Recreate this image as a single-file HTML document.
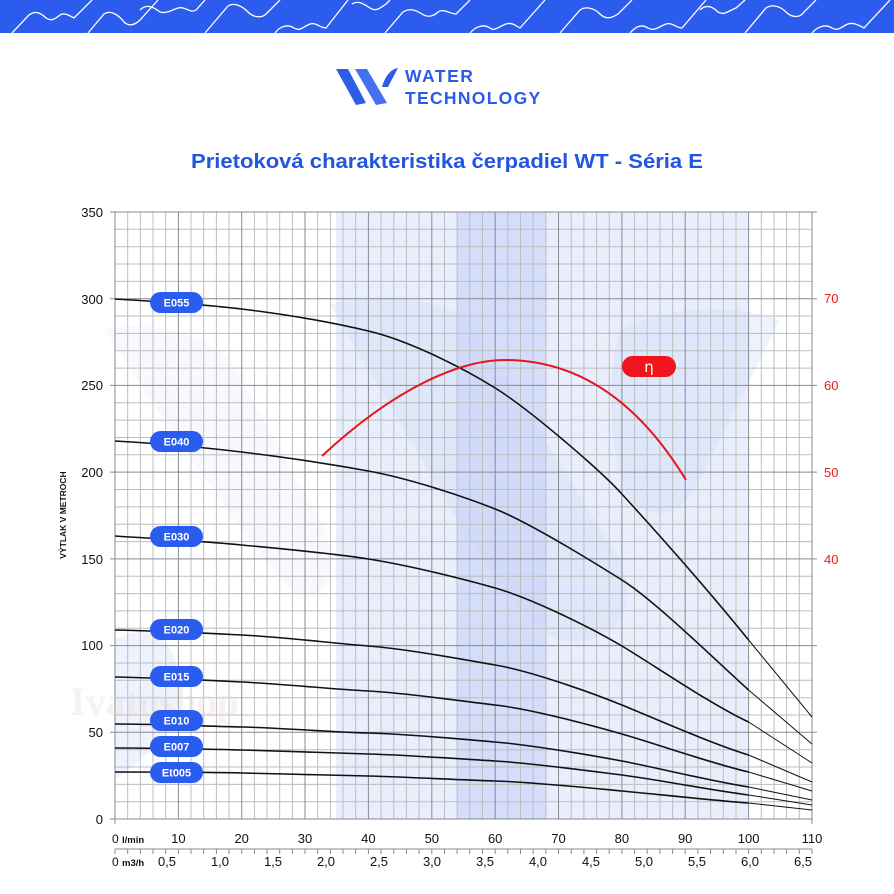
<!DOCTYPE html>
<html><head><meta charset="utf-8"><style>
html,body{margin:0;padding:0;background:#fff;}
svg{display:block;font-family:"Liberation Sans",sans-serif;}
</style></head><body>
<svg width="894" height="894" viewBox="0 0 894 894" xmlns="http://www.w3.org/2000/svg">
<!-- banner -->
<rect x="0" y="0" width="894" height="33" fill="#2b5cee"/>
<g fill="none" stroke="#fff" stroke-width="1.3">
<path d="M12,33 L28,16 C34,10 40,12 46,18 C52,22 56,18 60,15 C64,12 70,16 74,18 L92,0"/>
<path d="M88,33 L104,14 C110,10 118,14 124,22 C128,26 134,26 140,20 L158,0"/>
<path d="M140,10 C146,4 152,6 160,12 C166,14 172,10 178,8 C186,6 190,14 196,10 L205,0"/>
<path d="M205,33 L228,6 C234,2 242,6 248,12 C254,18 262,18 266,14 L280,0"/>
<path d="M275,33 C280,26 288,24 294,28 C300,32 304,26 310,24 C316,22 320,28 326,28 L348,0"/>
<path d="M352,4 C358,0 364,4 370,8 C376,12 380,8 386,4 L390,0"/>
<path d="M385,33 L403,12 C409,8 416,10 422,14 C428,18 434,16 438,12 C444,8 450,14 456,14 L470,0"/>
<path d="M470,33 C476,26 484,24 490,28 C494,32 500,26 506,24 C512,22 516,26 520,28 L545,0"/>
<path d="M560,33 L580,10 C586,6 594,8 600,14 C606,20 612,18 618,14 L632,0"/>
<path d="M630,33 C636,26 642,24 648,28 C654,32 660,26 666,24 C672,22 676,28 682,28 L706,0"/>
<path d="M700,10 C706,4 712,6 718,12 C724,16 730,10 736,8 L745,0"/>
<path d="M745,33 L766,8 C772,4 780,6 786,12 C792,18 800,18 804,12 L816,0"/>
<path d="M812,33 C818,26 826,24 832,28 C838,32 842,26 848,24 C854,22 860,26 864,28 L890,0"/>
</g>
<!-- logo -->
<g>
<path d="M336,69 L348,69 L366,103 L356,105 Z" fill="#2f5ee6"/>
<path d="M355,69 L367,69 L387,103 L376,105 Z" fill="#4570f0"/>
<path d="M382,87 C385,76 391,69 398,68 L388,87 Z" fill="#2f5ee6"/>
<text x="405" y="82" font-size="17.5" font-weight="bold" fill="#2b5ce6" letter-spacing="1.5">WATER</text>
<text x="405" y="104" font-size="17.5" font-weight="bold" fill="#2b5ce6" letter-spacing="1.3">TECHNOLOGY</text>
</g>
<text x="447" y="168" text-anchor="middle" font-size="20" font-weight="bold" fill="#2255e0" textLength="512" lengthAdjust="spacingAndGlyphs">Prietoková charakteristika čerpadiel WT - Séria E</text>

<!-- shading -->
<rect x="336" y="212" width="412" height="607" fill="#e9eefd"/>
<rect x="457" y="212" width="89" height="607" fill="#d4ddfa"/>
<g fill="#c8d5f8" opacity="0.3">
<path d="M330,305 C380,290 440,300 470,320 L620,560 C640,600 620,650 560,640 C520,620 480,560 440,490 Z"/>
<path d="M620,330 C660,310 720,300 780,320 L700,480 C680,520 650,520 630,500 C610,460 605,380 620,330 Z"/>
<path d="M105,330 C140,320 200,330 230,360 L320,520 C340,560 330,600 300,600 C260,560 200,470 150,400 Z" opacity="0.5"/>
<path d="M115,640 C150,620 180,640 180,690 C175,740 140,760 115,780 Z"/>
</g>

<!-- grid -->
<g stroke="#bdbdbd" stroke-width="1">
<path d="M127.7,212V819M140.3,212V819M153,212V819M165.7,212V819M191,212V819M203.7,212V819M216.4,212V819M229,212V819M254.4,212V819M267,212V819M279.7,212V819M292.4,212V819M317.7,212V819M330.4,212V819M343,212V819M355.7,212V819M381,212V819M393.8,212V819M406.4,212V819M419.1,212V819M444.5,212V819M457.1,212V819M469.8,212V819M482.5,212V819M507.8,212V819M520.5,212V819M533.2,212V819M545.9,212V819M571.2,212V819M583.9,212V819M596.6,212V819M609.2,212V819M634.6,212V819M647.2,212V819M659.9,212V819M672.6,212V819M697.9,212V819M710.6,212V819M723.3,212V819M736,212V819M761.3,212V819M774,212V819M786.6,212V819M799.3,212V819"/>
<path d="M115,229.3H812M115,246.7H812M115,264H812M115,281.4H812M115,316H812M115,333.4H812M115,350.7H812M115,368.1H812M115,402.8H812M115,420.1H812M115,437.5H812M115,454.8H812M115,489.5H812M115,506.9H812M115,524.2H812M115,541.6H812M115,576.2H812M115,593.6H812M115,610.9H812M115,628.3H812M115,663H812M115,680.3H812M115,697.7H812M115,715H812M115,749.7H812M115,767H812M115,784.4H812M115,801.7H812"/>
</g>
<g stroke="#8a8a92" stroke-width="1">
<path d="M178.4,212V819M241.7,212V819M305,212V819M368.4,212V819M431.8,212V819M495.2,212V819M558.5,212V819M621.9,212V819M685.2,212V819M748.6,212V819"/>
<path d="M110,212H817M110,298.7H817M110,385.4H817M110,472.1H817M110,558.9H817M110,645.6H817M110,732.3H817M110,819H812"/>
<path d="M115,212V824M812,212V824"/>
</g>

<!-- watermark -->
<text x="70" y="715" font-family="Liberation Serif,serif" font-size="40" font-weight="bold" fill="#ead6d6" opacity="0.35">Ivatoshop</text>

<!-- curves -->
<g fill="none" stroke="#111" stroke-width="1.6" stroke-linejoin="round">
<path d="M115,299 C150,301 200,304 241.7,309 S330,322 368.4,331 S460,366 495.2,388 S600,470 621.9,494 S700,580 748.6,640"/>
<path d="M115,441 C150,443 200,447 241.7,452 S330,464 368.4,471 S460,495 495.2,509 S590,560 621.9,580 S710,655 748.6,690"/>
<path d="M115,536 C160,539 200,541 241.7,545 S330,553 368.4,559 S460,578 495.2,588 S590,627 621.9,646 S710,704 748.6,722"/>
<path d="M115,630 C160,631 200,633 241.7,635 S330,643 368.4,646 S460,659 495.2,665 S590,692 621.9,705 S710,743 748.6,755"/>
<path d="M115,677 C160,678 200,680 241.7,682 S330,689 368.4,691 S460,701 495.2,705 S590,725 621.9,734 S710,763 748.6,772"/>
<path d="M115,724 C160,724 200,726 241.7,727 S330,732 368.4,733 S460,739 495.2,742 S590,755 621.9,761 S710,781 748.6,787"/>
<path d="M115,748 C160,748 200,749 241.7,750 S330,753 368.4,754 S460,759 495.2,761 S590,771 621.9,775 S710,790 748.6,795"/>
<path d="M115,772 C160,772 200,772 241.7,773 S330,775 368.4,776 S460,780 495.2,781 S590,788 621.9,791 S710,800 748.6,803"/>
</g>
<g fill="none" stroke="#111" stroke-width="1">
<path d="M748.6,640L812,717M748.6,690L812,744M748.6,722L812,763M748.6,755L812,782M748.6,772L812,791M748.6,787L812,800M748.6,795L812,805M748.6,803L812,810"/>
</g>
<path d="M322,456 C395,388 460,360 505,360 C565,360 630,388 686,480" fill="none" stroke="#e8141c" stroke-width="2"/>

<!-- pills -->
<g fill="#2a5cee">
<rect x="150" y="292" width="53" height="21" rx="10.5"/>
<rect x="150" y="431" width="53" height="21" rx="10.5"/>
<rect x="150" y="526" width="53" height="21" rx="10.5"/>
<rect x="150" y="619" width="53" height="21" rx="10.5"/>
<rect x="150" y="666" width="53" height="21" rx="10.5"/>
<rect x="150" y="710" width="53" height="21" rx="10.5"/>
<rect x="150" y="736" width="53" height="21" rx="10.5"/>
<rect x="150" y="762" width="53" height="21" rx="10.5"/>
</g>
<g fill="#fff" font-size="11" font-weight="bold" text-anchor="middle">
<text x="176.5" y="306.5">E055</text>
<text x="176.5" y="445.5">E040</text>
<text x="176.5" y="540.5">E030</text>
<text x="176.5" y="633.5">E020</text>
<text x="176.5" y="680.5">E015</text>
<text x="176.5" y="724.5">E010</text>
<text x="176.5" y="750.5">E007</text>
<text x="176.5" y="776.5">Et005</text>
</g>
<rect x="622" y="356" width="54" height="21" rx="10.5" fill="#f0141c"/>
<text x="649" y="372" fill="#fff" font-size="15" text-anchor="middle" font-family="DejaVu Sans,sans-serif">η</text>

<!-- left axis -->
<g font-size="13" fill="#111" text-anchor="end">
<text x="103" y="217">350</text><text x="103" y="304">300</text><text x="103" y="390">250</text>
<text x="103" y="477">200</text><text x="103" y="564">150</text><text x="103" y="650">100</text>
<text x="103" y="737">50</text><text x="103" y="824">0</text>
</g>
<text transform="translate(66,515) rotate(-90)" font-size="8.5" font-weight="bold" text-anchor="middle" fill="#111">VÝTLAK V METROCH</text>
<!-- right axis -->
<g font-size="13" fill="#ee1a1a">
<text x="824" y="303">70</text><text x="824" y="390">60</text><text x="824" y="477">50</text><text x="824" y="564">40</text>
</g>
<!-- bottom axis -->
<g font-size="13" fill="#111" text-anchor="middle">
<text x="178.4" y="843">10</text><text x="241.7" y="843">20</text><text x="305" y="843">30</text>
<text x="368.4" y="843">40</text><text x="431.8" y="843">50</text><text x="495.2" y="843">60</text>
<text x="558.5" y="843">70</text><text x="621.9" y="843">80</text><text x="685.2" y="843">90</text>
<text x="748.6" y="843">100</text><text x="812" y="843">110</text>
</g>
<text x="112" y="843" font-size="12" fill="#111">0 <tspan font-size="9.5" font-weight="bold">l/min</tspan></text>
<path d="M115,849H812" stroke="#888" stroke-width="1"/>
<g stroke="#888"><path d="M115,849v5M127.7,849v5M140.3,849v5M153,849v5M165.7,849v5M178.4,849v5M191,849v5M203.7,849v5M216.4,849v5M229,849v5M241.7,849v5M254.4,849v5M267,849v5M279.7,849v5M292.4,849v5M305,849v5M317.7,849v5M330.4,849v5M343,849v5M355.7,849v5M368.4,849v5M381,849v5M393.8,849v5M406.4,849v5M419.1,849v5M431.8,849v5M444.5,849v5M457.1,849v5M469.8,849v5M482.5,849v5M495.2,849v5M507.8,849v5M520.5,849v5M533.2,849v5M545.9,849v5M558.5,849v5M571.2,849v5M583.9,849v5M596.6,849v5M609.2,849v5M621.9,849v5M634.6,849v5M647.2,849v5M659.9,849v5M672.6,849v5M685.2,849v5M697.9,849v5M710.6,849v5M723.3,849v5M736,849v5M748.6,849v5M761.3,849v5M774,849v5M786.6,849v5M799.3,849v5M812,849v5"/></g>
<g font-size="13" fill="#111" text-anchor="middle">
<text x="167" y="866">0,5</text><text x="220" y="866">1,0</text><text x="273" y="866">1,5</text>
<text x="326" y="866">2,0</text><text x="379" y="866">2,5</text><text x="432" y="866">3,0</text>
<text x="485" y="866">3,5</text><text x="538" y="866">4,0</text><text x="591" y="866">4,5</text>
<text x="644" y="866">5,0</text><text x="697" y="866">5,5</text><text x="750" y="866">6,0</text>
<text x="803" y="866">6,5</text>
</g>
<text x="112" y="866" font-size="12" fill="#111">0 <tspan font-size="9.5" font-weight="bold">m3/h</tspan></text>
</svg>
</body></html>
